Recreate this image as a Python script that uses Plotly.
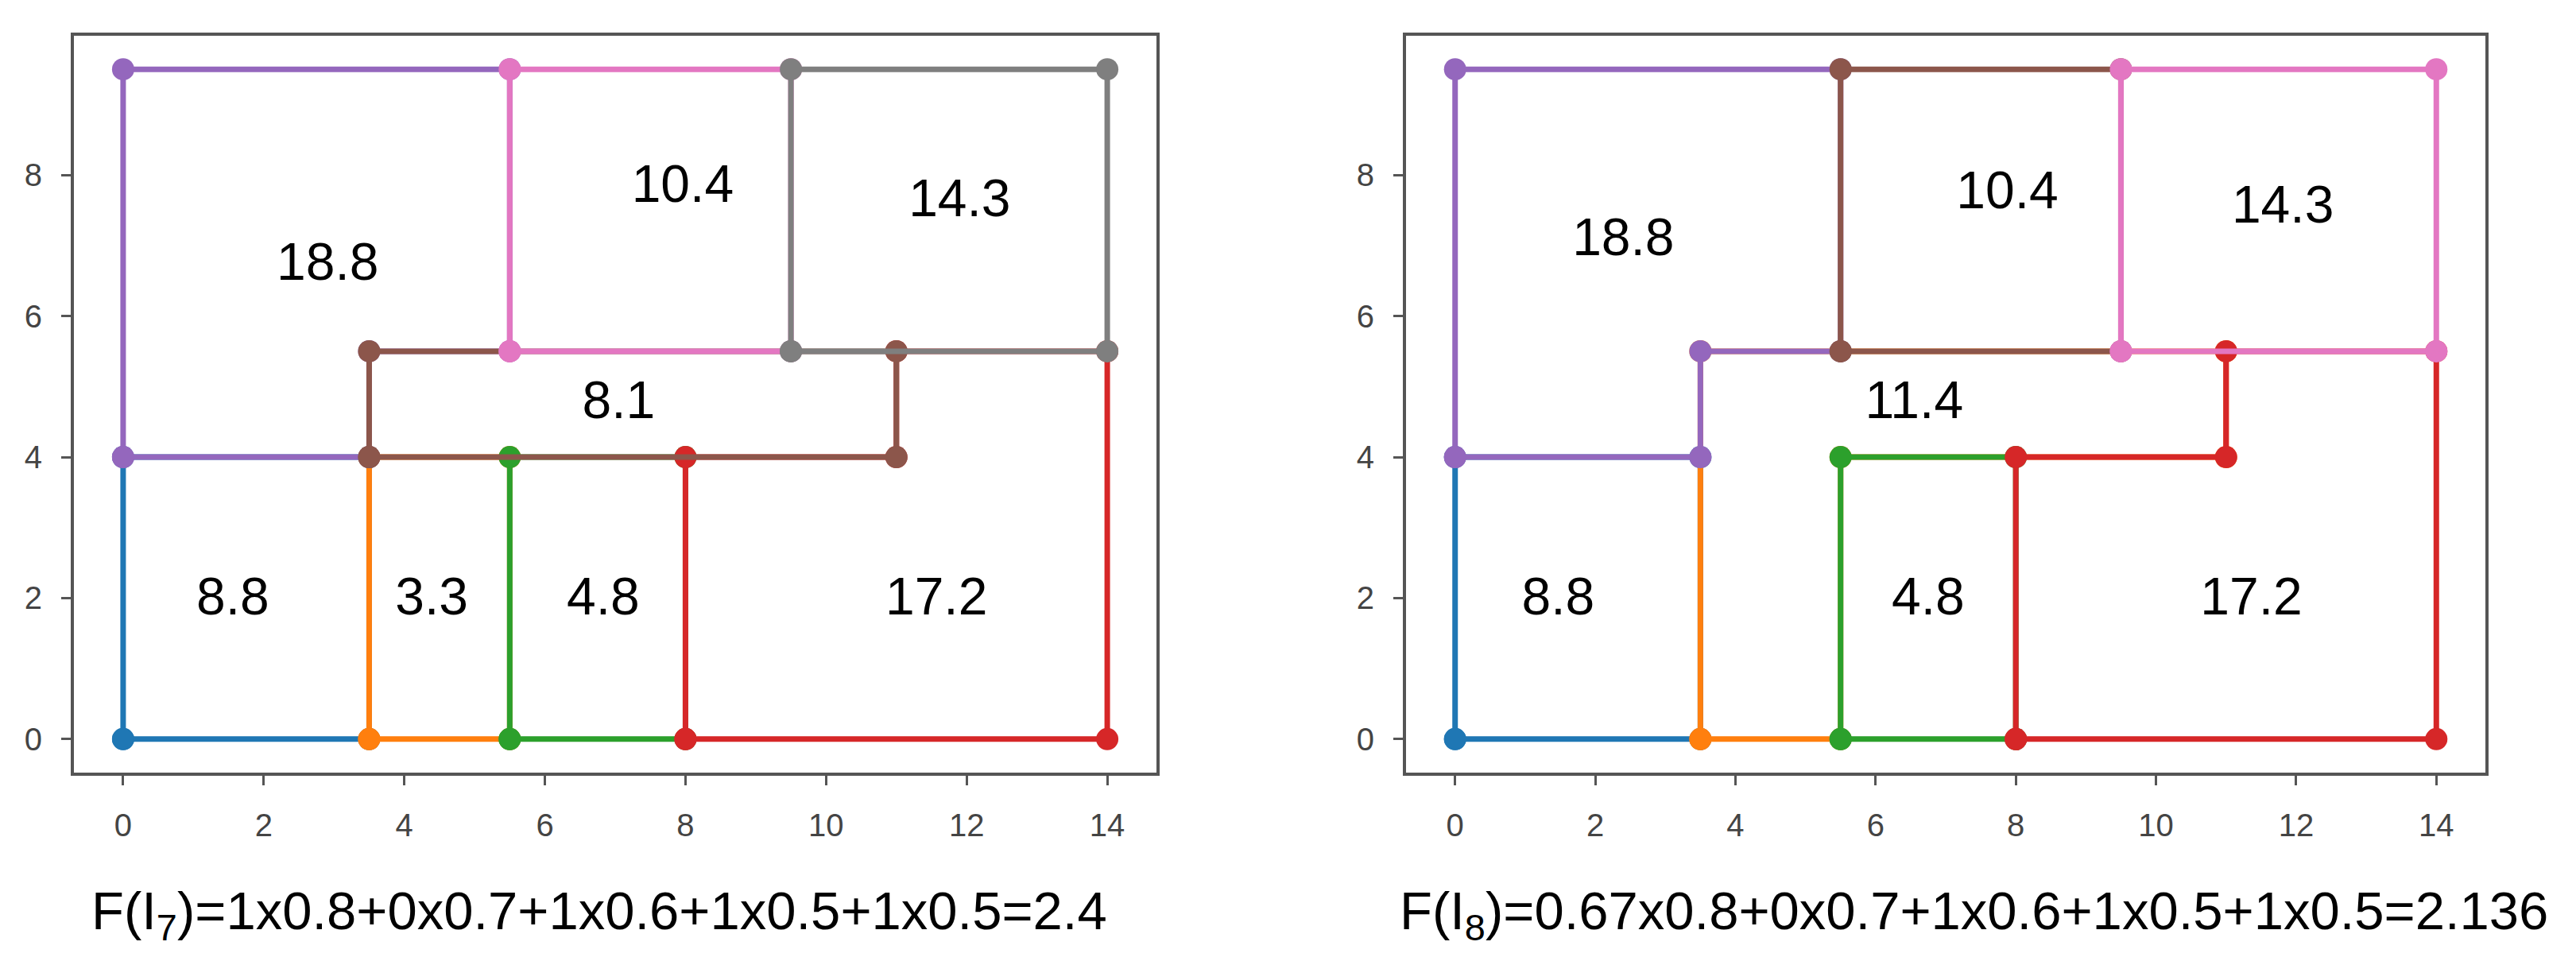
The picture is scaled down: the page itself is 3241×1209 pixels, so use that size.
import plotly.graph_objects as go

# ---------------- data ----------------
# Room polygons of layout I7 (left panel), in drawing order
I7_ROOMS_X = [
    [0, 3.5, 3.5, 0],
    [3.5, 5.5, 5.5, 3.5],
    [5.5, 8, 8, 5.5],
    [8, 14, 14, 11, 11, 8],
    [0, 3.5, 3.5, 5.5, 5.5, 0],
    [3.5, 11, 11, 3.5],
    [5.5, 9.5, 9.5, 5.5],
    [9.5, 14, 14, 9.5],
]
I7_ROOMS_Y = [
    [0, 0, 4, 4],
    [0, 0, 4, 4],
    [0, 0, 4, 4],
    [0, 0, 5.5, 5.5, 4, 4],
    [4, 4, 5.5, 5.5, 9.5, 9.5],
    [4, 4, 5.5, 5.5],
    [5.5, 5.5, 9.5, 9.5],
    [5.5, 5.5, 9.5, 9.5],
]
I7_LABELS = ["8.8", "3.3", "4.8", "17.2", "18.8", "8.1", "10.4", "14.3"]
I7_LABEL_X = [1.56, 4.39, 6.83, 11.57, 2.91, 7.05, 7.96, 11.90]
I7_LABEL_Y = [1.96, 1.96, 1.96, 1.96, 6.70, 4.74, 7.80, 7.60]
I7_FORMULA = "F(I<sub>7</sub>)=1x0.8+0x0.7+1x0.6+1x0.5+1x0.5=2.4"

# Room polygons of layout I8 (right panel), in drawing order
I8_ROOMS_X = [
    [0, 3.5, 3.5, 0],
    [3.5, 5.5, 5.5, 11, 11, 3.5],
    [5.5, 8, 8, 5.5],
    [8, 14, 14, 11, 11, 8],
    [0, 3.5, 3.5, 5.5, 5.5, 0],
    [5.5, 9.5, 9.5, 5.5],
    [9.5, 14, 14, 9.5],
]
I8_ROOMS_Y = [
    [0, 0, 4, 4],
    [0, 0, 4, 4, 5.5, 5.5],
    [0, 0, 4, 4],
    [0, 0, 5.5, 5.5, 4, 4],
    [4, 4, 5.5, 5.5, 9.5, 9.5],
    [5.5, 5.5, 9.5, 9.5],
    [5.5, 5.5, 9.5, 9.5],
]
I8_LABELS = ["8.8", "11.4", "4.8", "17.2", "18.8", "10.4", "14.3"]
I8_LABEL_X = [1.47, 6.55, 6.75, 11.36, 2.40, 7.88, 11.81]
I8_LABEL_Y = [1.96, 4.74, 1.96, 1.96, 7.05, 7.72, 7.51]
I8_FORMULA = "F(I<sub>8</sub>)=0.67x0.8+0x0.7+1x0.6+1x0.5+1x0.5=2.136"

X_TICKS = [0, 2, 4, 6, 8, 10, 12, 14]
Y_TICKS = [0, 2, 4, 6, 8]

# ---------------- styles ----------------
I7_COLORS = ["#1f77b4", "#ff7f0e", "#2ca02c", "#d62728",
             "#9467bd", "#8c564b", "#e377c2", "#7f7f7f"]
I8_COLORS = ["#1f77b4", "#ff7f0e", "#2ca02c", "#d62728",
             "#9467bd", "#8c564b", "#e377c2"]

FONT = "Liberation Sans, Arial, sans-serif"
W, H = 3241, 1209
X_DOMAINS = [[85 / W, 1447 / W], [1761 / W, 3119 / W]]
Y_DOMAIN = [(H - 964) / H, (H - 37) / H]
FRAME = "#555555"

fig = go.Figure()

panels = [
    (I7_ROOMS_X, I7_ROOMS_Y, I7_COLORS, I7_LABELS, I7_LABEL_X, I7_LABEL_Y, "x", "y"),
    (I8_ROOMS_X, I8_ROOMS_Y, I8_COLORS, I8_LABELS, I8_LABEL_X, I8_LABEL_Y, "x2", "y2"),
]

for rx, ry, cols, labs, lx, ly, xa, ya in panels:
    for px, py, c in zip(rx, ry, cols):
        fig.add_trace(go.Scatter(
            x=px + [px[0]], y=py + [py[0]],
            mode="lines+markers",
            line=dict(color=c, width=7),
            marker=dict(color=c, size=28),
            xaxis=xa, yaxis=ya, showlegend=False, hoverinfo="skip",
        ))
    fig.add_trace(go.Scatter(
        x=lx, y=ly, text=labs, mode="text",
        textfont=dict(family=FONT, size=66, color="black"),
        textposition="middle center",
        xaxis=xa, yaxis=ya, showlegend=False, hoverinfo="skip",
    ))

axis_common = dict(
    showgrid=False, zeroline=False,
    showline=True, mirror=True, linecolor=FRAME, linewidth=4,
    ticks="outside", ticklen=12, tickwidth=3, tickcolor=FRAME,
    tickfont=dict(family=FONT, size=40, color="#444444"),
    ticklabelstandoff=16,
)

fig.update_layout(
    width=W, height=H,
    margin=dict(l=0, r=0, t=0, b=0),
    plot_bgcolor="white", paper_bgcolor="white",
    xaxis=dict(domain=X_DOMAINS[0], range=[-0.7, 14.7], tickvals=X_TICKS,
               anchor="y", **axis_common),
    yaxis=dict(domain=Y_DOMAIN, range=[-0.475, 9.975], tickvals=Y_TICKS,
               anchor="x", **axis_common),
    xaxis2=dict(domain=X_DOMAINS[1], range=[-0.7, 14.7], tickvals=X_TICKS,
                anchor="y2", **axis_common),
    yaxis2=dict(domain=Y_DOMAIN, range=[-0.475, 9.975], tickvals=Y_TICKS,
                anchor="x2", **axis_common),
    annotations=[
        dict(text=I7_FORMULA, xref="paper", yref="paper",
             x=105 / W, y=(H - 1142) / H, xanchor="left", yanchor="middle",
             showarrow=False, font=dict(family=FONT, size=67, color="black")),
        dict(text=I8_FORMULA, xref="paper", yref="paper",
             x=1751 / W, y=(H - 1142) / H, xanchor="left", yanchor="middle",
             showarrow=False, font=dict(family=FONT, size=67, color="black")),
    ],
)

fig.write_html("out.html")
